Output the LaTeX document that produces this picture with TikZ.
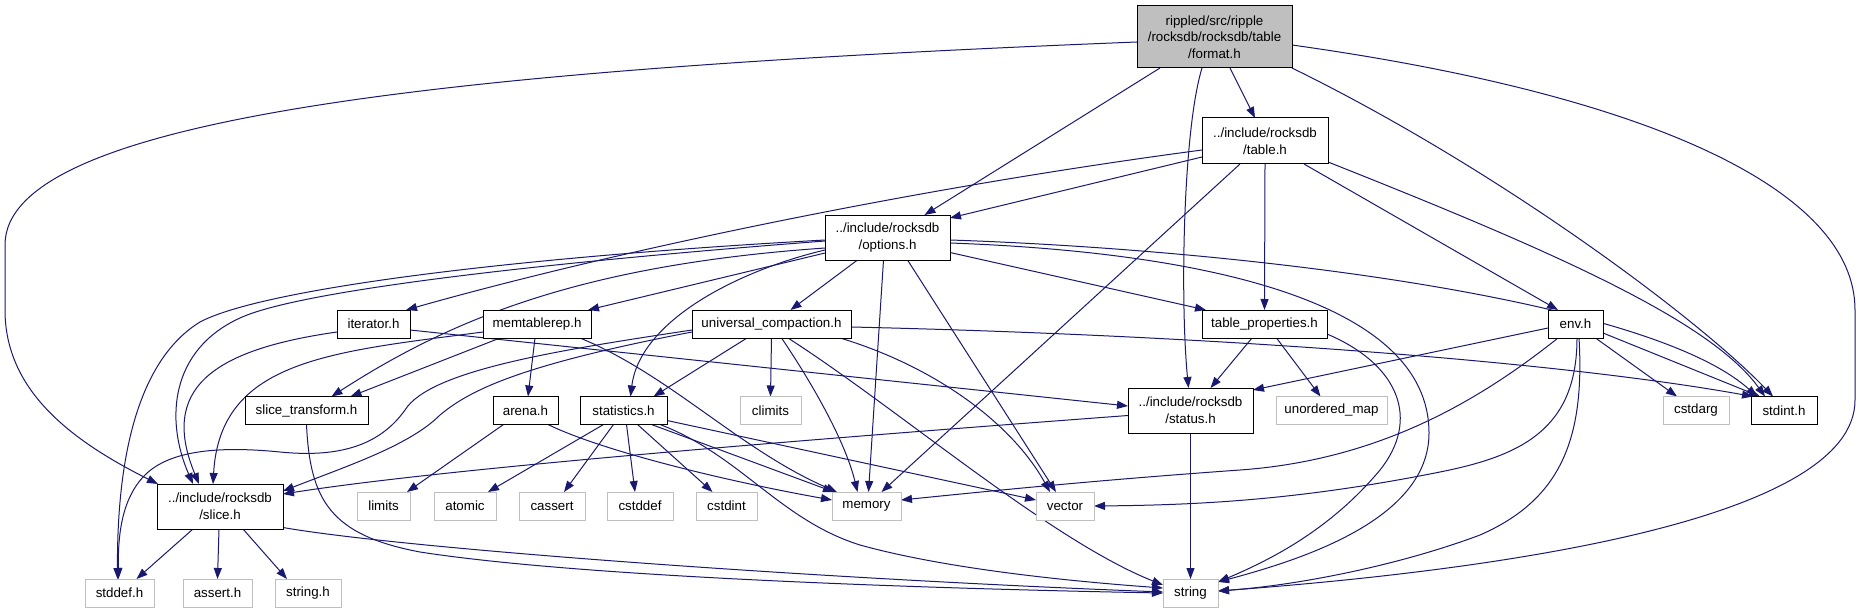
\documentclass[tikz,border=0pt]{standalone}
\usepackage{fontspec}
\setmainfont{Liberation Sans}
\usetikzlibrary{arrows.meta,calc}
\definecolor{edgecol}{HTML}{191970}
\definecolor{grayb}{HTML}{BFBFBF}
\pgfdeclarelayer{bg}
\pgfsetlayers{bg,main}
\begin{document}
\begin{tikzpicture}[x=0.75pt,y=-0.75pt,
  every node/.style={font=\fontsize{10pt}{12.5pt}\selectfont, inner sep=0pt, outer sep=0pt, align=center, minimum height=21pt},
  docbox/.style={draw=black, line width=0.75pt, fill=white},
  extbox/.style={draw=grayb, line width=0.75pt, fill=white},
  rootbox/.style={draw=black, line width=0.75pt, fill=grayb},
  dep/.style={draw=edgecol, line width=0.75pt, -{Triangle[length=8.25pt,width=6pt]}}]
\useasboundingbox (0,0) rectangle (1859,613);
% nodes
\node[rootbox, minimum width=116.25pt, minimum height=46.5pt] (format) at (1214.5,37) {rippled/src/ripple\\/rocksdb/rocksdb/table\\/format.h};
\node[docbox, minimum width=94.5pt, minimum height=34.5pt] (table) at (1265,141) {../include/rocksdb\\/table.h};
\node[docbox, minimum width=93.75pt, minimum height=33.75pt] (options) at (887.5,237.5) {../include/rocksdb\\/options.h};
\node[docbox, minimum width=54.75pt] (iterator) at (373.5,324) {iterator.h};
\node[docbox, minimum width=81pt] (memtablerep) at (537,324) {memtablerep.h};
\node[docbox, minimum width=119.25pt] (uc) at (771.5,324) {universal\_compaction.h};
\node[docbox, minimum width=93.75pt] (tableprop) at (1264.5,324) {table\_properties.h};
\node[docbox, minimum width=41.25pt] (env) at (1575.5,324) {env.h};
\node[docbox, minimum width=92.25pt] (slicetransform) at (306.5,410.5) {slice\_transform.h};
\node[docbox, minimum width=48.75pt] (arena) at (525.5,410.5) {arena.h};
\node[docbox, minimum width=65.25pt] (statistics) at (623.5,410.5) {statistics.h};
\node[extbox, minimum width=45.75pt] (climits) at (770.5,410.5) {climits};
\node[docbox, minimum width=93.75pt, minimum height=33.75pt] (status) at (1190.5,410.5) {../include/rocksdb\\/status.h};
\node[extbox, minimum width=83.25pt] (unordered) at (1331.5,410.5) {unordered\_map};
\node[extbox, minimum width=49.5pt] (cstdarg) at (1696,410.5) {cstdarg};
\node[docbox, minimum width=49.5pt] (stdint) at (1784,410.5) {stdint.h};
\node[docbox, minimum width=94.5pt, minimum height=33.75pt] (slice) at (220,506.5) {../include/rocksdb\\/slice.h};
\node[extbox, minimum width=39.75pt] (limits) at (383.5,506) {limits};
\node[extbox, minimum width=46.5pt] (atomic) at (465,506) {atomic};
\node[extbox, minimum width=49.5pt] (cassert) at (552,506) {cassert};
\node[extbox, minimum width=49.5pt] (cstddef) at (640,506) {cstddef};
\node[extbox, minimum width=45.75pt] (cstdint) at (726.5,506) {cstdint};
\node[extbox, minimum width=51.75pt] (memory) at (866.5,506) {memory};
\node[extbox, minimum width=43.5pt] (vector) at (1065,506) {vector};
\node[extbox, minimum width=51.75pt] (stddef) at (119.5,593) {stddef.h};
\node[extbox, minimum width=51.75pt] (assert) at (217.5,593) {assert.h};
\node[extbox, minimum width=49.5pt] (stringh) at (308,593) {string.h};
\node[extbox, minimum width=41.25pt] (string) at (1190.5,593) {string};
\begin{pgfonlayer}{bg}
\fill[white] (0,0) rectangle (1859,613);
% format.h
\draw[dep] ($(format.west)+(0,5)$) .. controls (430,70) and (5,120) .. (5,245) -- (5,310) .. controls (5,390) and (70,440) .. ($(slice.north west)+(1,0)$);
\draw[dep] ($(format.south)+(-54.5,0)$) -- ($(options.north)+(37,0)$);
\draw[dep] ($(format.south)+(-12.5,0)$) .. controls (1183,130) and (1180,300) .. ($(status.north)+(-2,0)$);
\draw[dep] ($(format.south)+(15.5,0)$) -- ($(table.north)+(-10,0)$);
\draw[dep] (format.south east) .. controls (1500,170) and (1700,320) .. ($(stdint.north west)+(22,0)$);
\draw[dep] ($(format.east)+(0,8)$) .. controls (1650,95) and (1855,190) .. (1855,310) -- (1855,400) .. controls (1855,520) and (1500,570) .. ($(string.east)+(0,-2)$);
% table.h
\draw[dep] ($(table.west)+(0,16)$) -- ($(options.north east)+(0,3)$);
\draw[dep] ($(table.west)+(0,9)$) .. controls (900,190) and (600,255) .. ($(iterator.north east)+(-4,0)$);
\draw[dep] ($(table.south)+(-25,0)$) -- ($(memory.north)+(15,0)$);
\draw[dep] (table.south) -- (tableprop.north);
\draw[dep] ($(table.south)+(39,0)$) -- ($(env.north west)+(10,0)$);
\draw[dep] ($(table.south east)+(0,-2)$) .. controls (1550,250) and (1710,320) .. ($(stdint.north west)+(14,0)$);
% options.h
\draw[dep] ($(options.west)+(0,3.5)$) .. controls (550,262) and (300,290) .. (240,318) .. controls (170,350) and (165,420) .. ($(slice.north)+(-27,0)$);
\draw[dep] ($(options.west)+(0,2.5)$) .. controls (500,258) and (260,290) .. (200,322) .. controls (130,365) and (117,480) .. ($(stddef.north)+(-2,0)$);
\draw[dep] ($(options.west)+(0,10.5)$) .. controls (580,265) and (450,320) .. ($(slicetransform.north)+(25,0)$);
\draw[dep] ($(options.west)+(0,15.5)$) -- ($(memtablerep.north east)+(-3,0)$);
\draw[dep] ($(options.west)+(0,12.5)$) .. controls (740,270) and (640,320) .. ($(statistics.north)+(7,0)$);
\draw[dep] ($(options.south)+(-30,0)$) -- ($(uc.north)+(19,0)$);
\draw[dep] ($(options.south)+(-4,0)$) -- ($(memory.north)+(2,0)$);
\draw[dep] ($(options.south)+(20,0)$) -- ($(vector.north)+(-9,0)$);
\draw[dep] ($(options.east)+(0,15)$) -- ($(tableprop.north west)+(4,0)$);
\draw[dep] ($(options.east)+(0,5.5)$) .. controls (1200,252) and (1429,300) .. (1429,433) .. controls (1429,520) and (1300,560) .. ($(string.north east)+(0,3)$);
\draw[dep] ($(options.east)+(0,2.5)$) .. controls (1250,250) and (1650,300) .. ($(stdint.north west)+(6,0)$);
% iterator.h
\draw[dep] ($(iterator.west)+(0,8)$) .. controls (210,350) and (160,390) .. ($(slice.north)+(-21,0)$);
\draw[dep] ($(iterator.east)+(0,6)$) -- ($(status.west)+(0,-4.5)$);
% memtablerep.h
\draw[dep] ($(memtablerep.south)+(-2,0)$) -- ($(arena.north)+(2.5,0)$);
\draw[dep] ($(memtablerep.south)+(-37,0)$) -- ($(slicetransform.north)+(44,0)$);
\draw[dep] ($(memtablerep.west)+(0,8)$) .. controls (330,352) and (220,360) .. ($(slice.north)+(-7,0)$);
\draw[dep] ($(memtablerep.south east)+(-11,0)$) .. controls (670,375) and (740,450) .. ($(memory.north west)+(5,0)$);
% universal_compaction.h
\draw[dep] ($(uc.south)+(-24.5,0)$) -- ($(statistics.north)+(30,0)$);
\draw[dep] (uc.south) -- (climits.north);
\draw[dep] ($(uc.south)+(10,0)$) .. controls (810,380) and (845,440) .. ($(memory.north)+(-9,0)$);
\draw[dep] ($(uc.south)+(16.5,0)$) .. controls (900,410) and (1050,540) .. ($(string.west)+(0,-8)$);
\draw[dep] ($(uc.south east)+(-11,0)$) .. controls (930,365) and (1010,420) .. ($(vector.north)+(-15,0)$);
\draw[dep] ($(uc.east)+(0,3)$) .. controls (1200,335) and (1550,360) .. ($(stdint.north west)+(2,0)$);
\draw[dep] ($(uc.west)+(0,8)$) .. controls (520,365) and (470,390) .. (440,415) .. controls (410,445) and (350,465) .. ($(slice.north east)+(0,7)$);
\draw[dep] ($(uc.west)+(0,6)$) .. controls (560,350) and (430,370) .. (405,410) .. controls (380,445) and (340,458) .. (280,452) .. controls (220,446) and (170,450) .. (145,475) .. controls (120,500) and (118,540) .. ($(stddef.north)+(-1,0)$);
% statistics.h
\draw[dep] ($(statistics.south)+(-20,0)$) -- ($(atomic.north east)+(-8,0)$);
\draw[dep] ($(statistics.south)+(-10,0)$) -- ($(cassert.north)+(12,0)$);
\draw[dep] ($(statistics.south)+(3,0)$) -- ($(cstddef.north)+(-5,0)$);
\draw[dep] ($(statistics.south)+(14,0)$) -- ($(cstdint.north)+(-14,0)$);
\draw[dep] ($(statistics.south)+(28,0)$) -- ($(memory.north west)+(2,0)$);
\draw[dep] ($(statistics.south east)+(-7,0)$) .. controls (740,455) and (780,520) .. (860,545) .. controls (950,570) and (1080,582) .. ($(string.west)+(0,-5)$);
\draw[dep] ($(statistics.east)+(0,10)$) -- ($(vector.west)+(0,-6)$);
% arena.h
\draw[dep] ($(arena.south)+(-22,0)$) -- ($(limits.north east)+(-3,0)$);
\draw[dep] ($(arena.south)+(22.5,0)$) .. controls (600,450) and (720,480) .. ($(memory.west)+(0,-6)$);
% slice.h
\draw[dep] ($(slice.south)+(-27,0)$) -- ($(stddef.north)+(17,0)$);
\draw[dep] ($(slice.south)+(-1,0)$) -- (assert.north);
\draw[dep] ($(slice.south)+(23,0)$) -- ($(stringh.north)+(-21,0)$);
\draw[dep] ($(slice.east)+(0,21)$) .. controls (400,548) and (800,578) .. ($(string.west)+(0,-1)$);
% slice_transform.h
\draw[dep] (slicetransform.south) .. controls (310,500) and (330,535) .. (420,552) .. controls (600,580) and (1000,590) .. ($(string.west)+(0,0)$);
% status.h
\draw[dep] (status.south) -- (string.north);
\draw[dep] ($(status.west)+(0,5)$) .. controls (800,440) and (450,468) .. ($(slice.north east)+(0,10)$);
% table_properties.h
\draw[dep] ($(tableprop.south)+(-12.5,0)$) -- ($(status.north)+(20,0)$);
\draw[dep] ($(tableprop.south)+(12,0)$) -- ($(unordered.north)+(-11,0)$);
\draw[dep] ($(tableprop.east)+(0,10)$) .. controls (1400,365) and (1420,420) .. (1380,470) .. controls (1330,530) and (1270,560) .. ($(string.north east)+(0,3)$);
% env.h
\draw[dep] ($(env.west)+(0,4)$) -- ($(status.north east)+(0,2)$);
\draw[dep] ($(env.south west)+(10,0)$) .. controls (1480,400) and (1380,460) .. (1240,470) .. controls (1100,480) and (1000,490) .. ($(memory.east)+(0,-6)$);
\draw[dep] ($(env.south)+(1.5,0)$) .. controls (1577,430) and (1520,456) .. (1440,472) .. controls (1300,500) and (1200,505) .. (vector.east);
\draw[dep] ($(env.south)+(3.5,0)$) .. controls (1585,440) and (1560,500) .. (1480,535) .. controls (1400,565) and (1300,585) .. ($(string.east)+(0,-2)$);
\draw[dep] ($(env.south)+(20,0)$) -- ($(cstdarg.north west)+(14,0)$);
\draw[dep] ($(env.east)+(0,9)$) -- ($(stdint.north west)+(9,0)$);
\end{pgfonlayer}
\end{tikzpicture}
\end{document}
